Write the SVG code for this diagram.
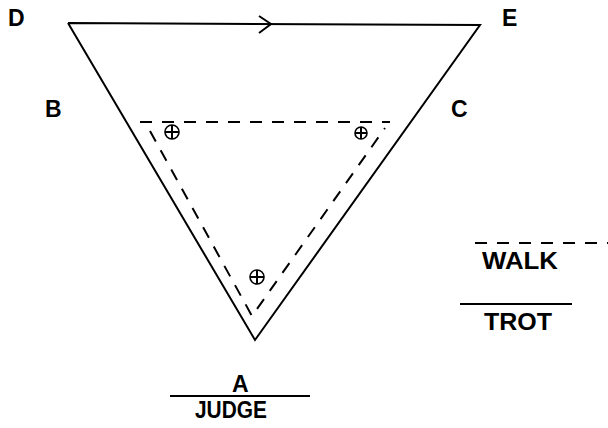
<svg xmlns="http://www.w3.org/2000/svg" width="608" height="428" viewBox="0 0 608 428">
<style>
.lbl{font-family:"Liberation Sans",Arial,sans-serif;font-weight:bold;font-size:23px;fill:#000}
.solid{stroke:#000;stroke-width:2;fill:none}
.dash{stroke:#000;stroke-width:2;fill:none;stroke-dasharray:12 10}
.mk{stroke:#000;stroke-width:1.6;fill:#fff}
</style>
<rect width="608" height="428" fill="#fff"/>
<g id="connectors">
<polyline class="solid" points="68,23 480,25 255,340 68,23"/>
<polyline class="solid" points="259,16 271,24 259,33"/>
<line class="dash" x1="140" y1="122" x2="390" y2="122"/>
<polyline class="dash" points="150,131 252,316 385,128"/>
</g>
<g id="marker1"><circle class="mk" cx="172" cy="132" r="7"/><path class="solid" stroke-width="1.4" d="M165,132 H179 M172,125 V139"/></g>
<g id="marker2"><circle class="mk" cx="361" cy="133" r="6"/><path class="solid" stroke-width="1.4" d="M355,133 H367 M361,127 V139"/></g>
<g id="marker3"><circle class="mk" cx="257" cy="277" r="7"/><path class="solid" stroke-width="1.4" d="M250,277 H264 M257,270 V284"/></g>
<g id="label-D"><text class="lbl" x="8" y="26">D</text></g>
<g id="label-E"><text class="lbl" x="502" y="26">E</text></g>
<g id="label-B"><text class="lbl" x="45" y="117">B</text></g>
<g id="label-C"><text class="lbl" x="451" y="117">C</text></g>
<g id="legend-walk">
<line class="dash" x1="475" y1="243" x2="608" y2="243"/>
<text class="lbl" x="482" y="269" textLength="76" lengthAdjust="spacingAndGlyphs">WALK</text>
</g>
<g id="legend-trot">
<line class="solid" x1="460" y1="304" x2="572" y2="304"/>
<text class="lbl" x="484" y="330" textLength="68" lengthAdjust="spacingAndGlyphs">TROT</text>
</g>
<g id="judge">
<text class="lbl" x="232" y="392">A</text>
<line class="solid" x1="170" y1="396" x2="310" y2="396"/>
<text class="lbl" x="195" y="418" textLength="72" lengthAdjust="spacingAndGlyphs">JUDGE</text>
</g>
</svg>
